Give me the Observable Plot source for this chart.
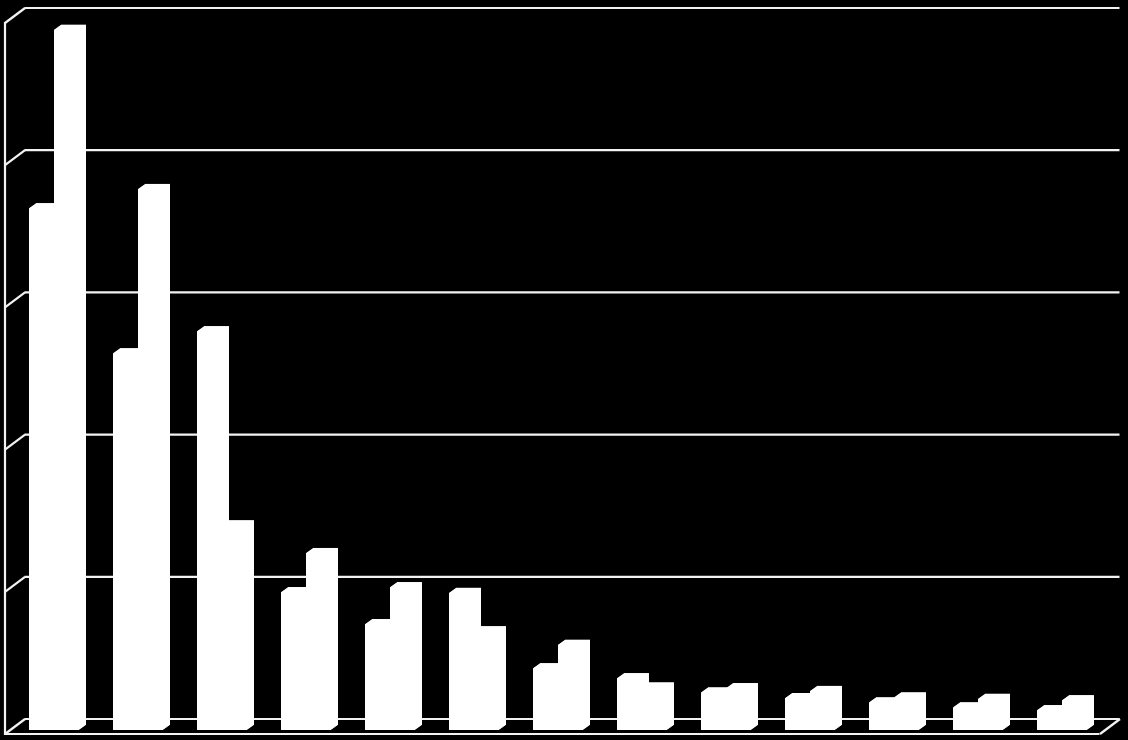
<!DOCTYPE html>
<html>
<head>
<meta charset="utf-8">
<script src="https://cdn.jsdelivr.net/npm/d3@7"></script>
<script src="https://cdn.jsdelivr.net/npm/@observablehq/plot@0.6"></script>
<style>
  html, body { margin: 0; padding: 0; background: #000; }
  #chart svg { display: block; }
</style>
</head>
<body>
<div id="chart"></div>
<script>
// ---- data ----
const groups = ["1","2","3","4","5","6","7","8","9","10","11","12","13"];
const seriesA = [73.4, 53.0, 56.1, 19.4, 14.9, 19.3, 8.7, 7.3, 5.3, 4.5, 3.9, 3.2, 2.8];
const seriesB = [98.5, 76.1, 28.8, 24.9, 20.1, 13.9, 12.0, 6.0, 5.9, 5.5, 4.6, 4.4, 4.2];
const gridTicks = [0, 20, 40, 60, 80, 100];

const data = groups.map((g, i) => ({group: g, a: seriesA[i], b: seriesB[i]}));

// ---- style ----
const gridColor = "#f2f2f2";
const lineW = 2.2;
const wallDX = 20, wallDY = -15;   // depth of the chart box (front -> back)
const frontDY = 4, backDY = -11;   // offsets of front plane and back wall from the bar plane
const barDepthX = 7, barDepthY = -5;
const steps = d3.range(0, 1.0001, 1 / 14);
const half = -0.5;                 // cancel Plot's crisp-edge half-pixel offset for 2px lines

function barMarks(key, insetLeft, insetRight) {
  return steps.map(t => Plot.barY(data, {
    x: "group", y: key, fill: "white",
    insetLeft, insetRight,
    dx: t * barDepthX, dy: t * barDepthY
  }));
}

function sideWall(index, scales, values, dims) {
  const y = scales.y;
  const x0 = dims.marginLeft;
  const xr = dims.width - dims.marginRight;
  const g = d3.create("svg:g")
    .attr("stroke", gridColor)
    .attr("stroke-width", lineW)
    .attr("fill", "none");
  for (const t of gridTicks) {
    g.append("line")
      .attr("x1", x0).attr("y1", y(t) + frontDY)
      .attr("x2", x0 + wallDX).attr("y2", y(t) + frontDY + wallDY);
  }
  g.append("line")
    .attr("x1", xr).attr("y1", y(0) + frontDY)
    .attr("x2", xr + wallDX).attr("y2", y(0) + frontDY + wallDY);
  return g.node();
}

const chart = Plot.plot({
  width: 1128,
  height: 740,
  marginLeft: 5,
  marginRight: 28,
  marginTop: 19,
  marginBottom: 10,
  style: {background: "#000", color: "white"},
  x: {domain: groups, range: [29, 1087], paddingInner: 34 / 84, paddingOuter: 0, axis: null},
  y: {domain: [0, 100], range: [730, 19], axis: null},
  marks: [
    Plot.ruleY(gridTicks, {stroke: gridColor, strokeWidth: lineW, dx: wallDX + half, dy: backDY + half}),
    Plot.ruleY([0], {stroke: gridColor, strokeWidth: lineW, dx: half, dy: frontDY + half}),
    Plot.frame({anchor: "left", stroke: gridColor, strokeWidth: lineW, dx: half, dy: frontDY + half}),
    sideWall,
    ...barMarks("a", 0, 25),
    ...barMarks("b", 25, 0)
  ]
});

document.getElementById("chart").append(chart);
</script>
</body>
</html>
